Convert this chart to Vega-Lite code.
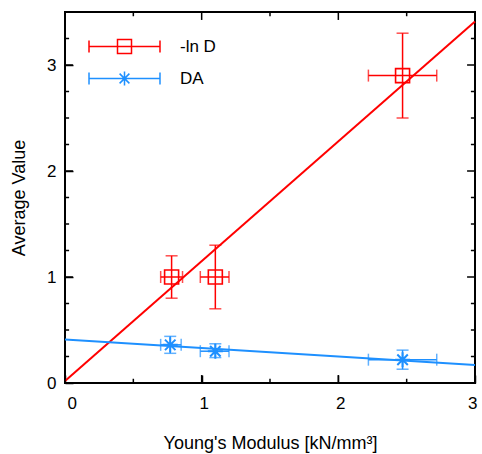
{
  "$schema": "https://vega.github.io/schema/vega-lite/v6.json",
  "width": 410,
  "height": 371,
  "autosize": {"type": "none"},
  "padding": {"left": 65, "top": 12, "right": 7, "bottom": 71},
  "background": "white",
  "config": {
    "view": {"stroke": "black", "strokeWidth": 2},
    "font": "Liberation Sans",
    "axis": {
      "labelFont": "Liberation Sans", "labelFontSize": 17, "labelColor": "black",
      "titleFont": "Liberation Sans", "titleFontSize": 18, "titleFontWeight": "normal", "titleColor": "black"
    }
  },
  "datasets": {
    "pts": [
      {"series": "-ln D", "x": 0.78, "xlo": 0.70, "xhi": 0.86, "y": 1.0, "ylo": 0.8, "yhi": 1.2},
      {"series": "-ln D", "x": 1.10, "xlo": 0.99, "xhi": 1.20, "y": 1.0, "ylo": 0.7, "yhi": 1.3},
      {"series": "-ln D", "x": 2.47, "xlo": 2.22, "xhi": 2.72, "y": 2.9, "ylo": 2.5, "yhi": 3.3},
      {"series": "DA", "x": 0.77, "xlo": 0.70, "xhi": 0.85, "y": 0.36, "ylo": 0.28, "yhi": 0.44},
      {"series": "DA", "x": 1.10, "xlo": 0.99, "xhi": 1.20, "y": 0.30, "ylo": 0.24, "yhi": 0.37},
      {"series": "DA", "x": 2.47, "xlo": 2.22, "xhi": 2.72, "y": 0.22, "ylo": 0.13, "yhi": 0.31}
    ],
    "fits": [
      {"series": "-ln D", "x0": 0, "y0": 0.02, "x1": 3, "y1": 3.41},
      {"series": "DA", "x0": 0, "y0": 0.41, "x1": 3, "y1": 0.17}
    ],
    "xmajor": [{"v": 0}, {"v": 1}, {"v": 2}, {"v": 3}],
    "xminor": [{"v": 0.5}, {"v": 1.5}, {"v": 2.5}],
    "ymajor": [{"v": 0}, {"v": 1}, {"v": 2}, {"v": 3}],
    "yminor": [{"v": 0.25}, {"v": 0.5}, {"v": 0.75}, {"v": 1.25}, {"v": 1.5}, {"v": 1.75}, {"v": 2.25}, {"v": 2.5}, {"v": 2.75}, {"v": 3.25}]
  },
  "encoding": {
    "color": {"field": "series", "type": "nominal", "scale": {"domain": ["-ln D", "DA"], "range": ["#FF0000", "#1E90FF"]},
              "legend": {"orient": "none", "legendX": 51, "legendY": 26, "title": null, "symbolSize": 196, "symbolStrokeWidth": 1.5,
                         "symbolFillColor": "transparent",
                         "labelFont": "Liberation Sans", "labelFontSize": 17, "labelColor": "black", "labelOffset": 47, "rowPadding": 11,
                         "encode": {"symbols": {"update": {
                           "fill": {"value": "transparent"},
                           "fillOpacity": {"value": 0},
                           "stroke": {"scale": "color", "field": "value"},
                           "strokeWidth": {"value": 1.5},
                           "shape": {"signal": "datum.value === '-ln D' ? 'M-5.07,0H5.07M-5.07,-0.86V0.86M5.07,-0.86V0.86M-1,-1H1V1H-1Z' : 'M-5.07,0H5.07M-5.07,-0.86V0.86M5.07,-0.86V0.86M0,-1V1M-0.7,-0.7L0.7,0.7M-0.7,0.7L0.7,-0.7'"}}}}}}
  },
  "layer": [
    {
      "data": {"name": "fits"},
      "mark": {"type": "rule", "strokeWidth": 2},
      "encoding": {
        "x": {"field": "x0", "type": "quantitative", "scale": {"domain": [0, 3], "nice": false, "zero": false},
              "axis": {"orient": "bottom", "values": [0, 1, 2, 3], "offset": -8, "tickSize": 8, "tickColor": "black", "tickWidth": 1.5, "domain": false, "grid": false, "labelPadding": 12, "labelOffset": 2, "title": "Young's Modulus [kN/mm³]", "titlePadding": 23}},
        "x2": {"field": "x1"},
        "y": {"field": "y0", "type": "quantitative", "scale": {"domain": [0, 3.5], "nice": false, "zero": false},
              "axis": {"orient": "left", "values": [0, 1, 2, 3], "offset": -8, "tickSize": 8, "tickColor": "black", "tickWidth": 1.5, "domain": false, "grid": false, "labelPadding": 9, "title": "Average Value", "titlePadding": 18}},
        "y2": {"field": "y1"}
      }
    },
    {
      "data": {"name": "pts"},
      "mark": {"type": "rule", "strokeWidth": 1.5},
      "encoding": {
        "x": {"field": "xlo", "type": "quantitative", "scale": {"domain": [0, 3], "nice": false, "zero": false}, "axis": null},
        "x2": {"field": "xhi"},
        "y": {"field": "y", "type": "quantitative", "scale": {"domain": [0, 3.5], "nice": false, "zero": false}, "axis": null}
      }
    },
    {
      "data": {"name": "pts"},
      "mark": {"type": "rule", "strokeWidth": 1.5},
      "encoding": {
        "x": {"field": "x", "type": "quantitative", "scale": {"domain": [0, 3], "nice": false, "zero": false}, "axis": null},
        "y": {"field": "ylo", "type": "quantitative", "scale": {"domain": [0, 3.5], "nice": false, "zero": false}, "axis": null},
        "y2": {"field": "yhi"}
      }
    },
    {
      "data": {"name": "pts"},
      "transform": [{"filter": "datum.series === '-ln D'"}],
      "mark": {"type": "point", "filled": false, "size": 196, "strokeWidth": 1.6, "opacity": 1, "shape": "M-1,-1H1V1H-1Z"},
      "encoding": {
        "x": {"field": "x", "type": "quantitative", "scale": {"domain": [0, 3], "nice": false, "zero": false}, "axis": null},
        "y": {"field": "y", "type": "quantitative", "scale": {"domain": [0, 3.5], "nice": false, "zero": false}, "axis": null}
      }
    },
    {
      "data": {"name": "pts"},
      "transform": [{"filter": "datum.series === 'DA'"}],
      "mark": {"type": "point", "filled": false, "size": 225, "strokeWidth": 2, "opacity": 1, "shape": "M-1,0H1M0,-1V1M-0.7,-0.7L0.7,0.7M-0.7,0.7L0.7,-0.7"},
      "encoding": {
        "x": {"field": "x", "type": "quantitative", "scale": {"domain": [0, 3], "nice": false, "zero": false}, "axis": null},
        "y": {"field": "y", "type": "quantitative", "scale": {"domain": [0, 3.5], "nice": false, "zero": false}, "axis": null}
      }
    },
    {
      "data": {"name": "pts"},
      "mark": {"type": "tick", "orient": "vertical", "size": 12, "thickness": 1.5},
      "encoding": {
        "x": {"field": "xlo", "type": "quantitative", "scale": {"domain": [0, 3], "nice": false, "zero": false}, "axis": null},
        "y": {"field": "y", "type": "quantitative", "scale": {"domain": [0, 3.5], "nice": false, "zero": false}, "axis": null}
      }
    },
    {
      "data": {"name": "pts"},
      "mark": {"type": "tick", "orient": "vertical", "size": 12, "thickness": 1.5},
      "encoding": {
        "x": {"field": "xhi", "type": "quantitative", "scale": {"domain": [0, 3], "nice": false, "zero": false}, "axis": null},
        "y": {"field": "y", "type": "quantitative", "scale": {"domain": [0, 3.5], "nice": false, "zero": false}, "axis": null}
      }
    },
    {
      "data": {"name": "pts"},
      "mark": {"type": "tick", "orient": "horizontal", "size": 12, "thickness": 1.5},
      "encoding": {
        "x": {"field": "x", "type": "quantitative", "scale": {"domain": [0, 3], "nice": false, "zero": false}, "axis": null},
        "y": {"field": "ylo", "type": "quantitative", "scale": {"domain": [0, 3.5], "nice": false, "zero": false}, "axis": null}
      }
    },
    {
      "data": {"name": "pts"},
      "mark": {"type": "tick", "orient": "horizontal", "size": 12, "thickness": 1.5},
      "encoding": {
        "x": {"field": "x", "type": "quantitative", "scale": {"domain": [0, 3], "nice": false, "zero": false}, "axis": null},
        "y": {"field": "yhi", "type": "quantitative", "scale": {"domain": [0, 3.5], "nice": false, "zero": false}, "axis": null}
      }
    },
    {
      "data": {"name": "xmajor"},
      "mark": {"type": "rule", "strokeWidth": 1.5},
      "encoding": {
        "x": {"field": "v", "type": "quantitative", "scale": {"domain": [0, 3], "nice": false, "zero": false}, "axis": null},
        "y": {"datum": 0, "type": "quantitative", "scale": {"domain": [0, 3.5], "nice": false, "zero": false}, "axis": null},
        "y2": {"datum": 0.075},
        "color": {"value": "black"}
      }
    },
    {
      "data": {"name": "xmajor"},
      "mark": {"type": "rule", "strokeWidth": 1.5},
      "encoding": {
        "x": {"field": "v", "type": "quantitative", "scale": {"domain": [0, 3], "nice": false, "zero": false}, "axis": null},
        "y": {"datum": 3.5, "type": "quantitative", "scale": {"domain": [0, 3.5], "nice": false, "zero": false}, "axis": null},
        "y2": {"datum": 3.425},
        "color": {"value": "black"}
      }
    },
    {
      "data": {"name": "xminor"},
      "mark": {"type": "rule", "strokeWidth": 1.5},
      "encoding": {
        "x": {"field": "v", "type": "quantitative", "scale": {"domain": [0, 3], "nice": false, "zero": false}, "axis": null},
        "y": {"datum": 0, "type": "quantitative", "scale": {"domain": [0, 3.5], "nice": false, "zero": false}, "axis": null},
        "y2": {"datum": 0.04},
        "color": {"value": "black"}
      }
    },
    {
      "data": {"name": "xminor"},
      "mark": {"type": "rule", "strokeWidth": 1.5},
      "encoding": {
        "x": {"field": "v", "type": "quantitative", "scale": {"domain": [0, 3], "nice": false, "zero": false}, "axis": null},
        "y": {"datum": 3.5, "type": "quantitative", "scale": {"domain": [0, 3.5], "nice": false, "zero": false}, "axis": null},
        "y2": {"datum": 3.46},
        "color": {"value": "black"}
      }
    },
    {
      "data": {"name": "ymajor"},
      "mark": {"type": "rule", "strokeWidth": 1.5},
      "encoding": {
        "x": {"datum": 0, "type": "quantitative", "scale": {"domain": [0, 3], "nice": false, "zero": false}, "axis": null},
        "x2": {"datum": 0.058},
        "y": {"field": "v", "type": "quantitative", "scale": {"domain": [0, 3.5], "nice": false, "zero": false}, "axis": null},
        "color": {"value": "black"}
      }
    },
    {
      "data": {"name": "ymajor"},
      "mark": {"type": "rule", "strokeWidth": 1.5},
      "encoding": {
        "x": {"datum": 3, "type": "quantitative", "scale": {"domain": [0, 3], "nice": false, "zero": false}, "axis": null},
        "x2": {"datum": 2.942},
        "y": {"field": "v", "type": "quantitative", "scale": {"domain": [0, 3.5], "nice": false, "zero": false}, "axis": null},
        "color": {"value": "black"}
      }
    },
    {
      "data": {"name": "yminor"},
      "mark": {"type": "rule", "strokeWidth": 1.5},
      "encoding": {
        "x": {"datum": 0, "type": "quantitative", "scale": {"domain": [0, 3], "nice": false, "zero": false}, "axis": null},
        "x2": {"datum": 0.03},
        "y": {"field": "v", "type": "quantitative", "scale": {"domain": [0, 3.5], "nice": false, "zero": false}, "axis": null},
        "color": {"value": "black"}
      }
    },
    {
      "data": {"name": "yminor"},
      "mark": {"type": "rule", "strokeWidth": 1.5},
      "encoding": {
        "x": {"datum": 3, "type": "quantitative", "scale": {"domain": [0, 3], "nice": false, "zero": false}, "axis": null},
        "x2": {"datum": 2.97},
        "y": {"field": "v", "type": "quantitative", "scale": {"domain": [0, 3.5], "nice": false, "zero": false}, "axis": null},
        "color": {"value": "black"}
      }
    }
  ],
  "resolve": {"axis": {"x": "independent", "y": "independent"}}
}
